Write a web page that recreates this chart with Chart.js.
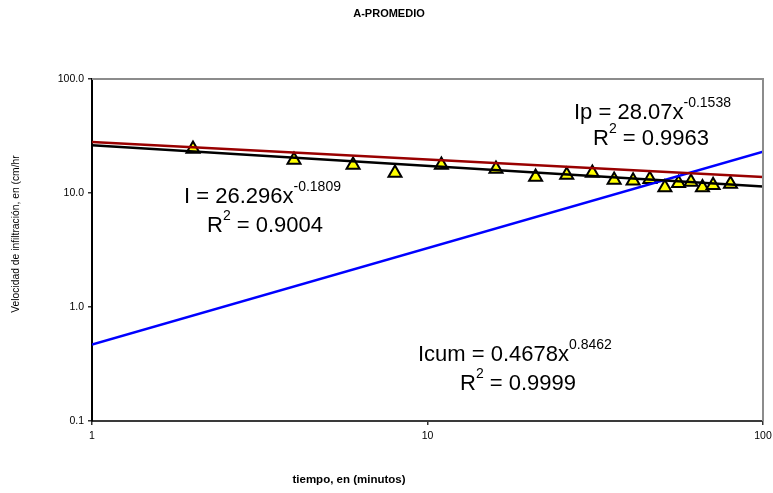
<!DOCTYPE html>
<html>
<head>
<meta charset="utf-8">
<script src="https://cdn.jsdelivr.net/npm/chart.js@4"></script>
<style>
  html, body { margin: 0; padding: 0; background: #fff; }
  #wrap { width: 773px; height: 493px; position: relative; }
</style>
</head>
<body>
<div id="wrap"><canvas id="chart"></canvas></div>
<script>
/* ---------- data ---------- */
const X_TICKS = [1, 10, 100];
const Y_TICKS = [0.1, 1, 10, 100];

// measured infiltration rate (triangles)
const TIME = [2, 4, 6, 8, 11, 16, 21, 26, 31, 36, 41, 46, 51, 56, 61, 66, 71, 80];
const RATE = [24.3, 19.5, 17.6, 15.0, 17.6, 16.2, 13.8, 14.4, 15.0, 13.0, 12.8, 13.2,
              11.2, 12.2, 12.5, 11.2, 11.7, 12.0];

// power-law trend lines are straight on log-log: two end values each
const FIT_X = [1, 100];
const FIT_I = [26.3, 11.43];
const FIT_IP = [28.07, 13.83];
const FIT_ICUM = [0.468, 23.0];

const TITLE = "A-PROMEDIO";
const X_TITLE = "tiempo, en (minutos)";
const Y_TITLE = "Velocidad de infiltración, en (cm/hr";

const FONT = "'Liberation Sans', Arial, sans-serif";

/* ---------- text placed on the chart ---------- */
const NOTES = [
  { x: 574, y: 119, parts: [["Ip = 28.07x", 0], ["-0.1538", 1]] },
  { x: 593, y: 145, parts: [["R", 0], ["2", 1], [" = 0.9963", 0]] },
  { x: 184, y: 203, parts: [["I = 26.296x", 0], ["-0.1809", 1]] },
  { x: 207, y: 232, parts: [["R", 0], ["2", 1], [" = 0.9004", 0]] },
  { x: 418, y: 361, parts: [["Icum = 0.4678x", 0], ["0.8462", 1]] },
  { x: 460, y: 390, parts: [["R", 0], ["2", 1], [" = 0.9999", 0]] },
];

const pairs = (xs, ys) => xs.map((x, i) => ({ x, y: ys[i] }));

const textPlugin = {
  id: "texts",
  afterDraw(chart) {
    const { ctx, chartArea: a } = chart;
    ctx.save();
    // top and right frame in grey
    ctx.strokeStyle = "#8c8c8c";
    ctx.lineWidth = 2;
    ctx.beginPath();
    ctx.moveTo(a.left, a.top);
    ctx.lineTo(a.right, a.top);
    ctx.lineTo(a.right, a.bottom);
    ctx.stroke();

    ctx.fillStyle = "#000";
    ctx.textBaseline = "middle";
    ctx.textAlign = "center";
    ctx.font = `bold 11px ${FONT}`;
    ctx.fillText(TITLE, 389, 14);
    ctx.font = `bold 11.5px ${FONT}`;
    ctx.fillText(X_TITLE, 349, 480);

    ctx.save();
    ctx.translate(16, 234);
    ctx.rotate(-Math.PI / 2);
    ctx.font = `10.3px ${FONT}`;
    ctx.fillText(Y_TITLE, 0, 0);
    ctx.restore();

    ctx.textAlign = "left";
    ctx.textBaseline = "alphabetic";
    NOTES.forEach((n) => {
      let x = n.x;
      n.parts.forEach(([t, sup]) => {
        ctx.font = sup ? `14px ${FONT}` : `22px ${FONT}`;
        ctx.fillText(t, x, sup ? n.y - 12 : n.y);
        x += ctx.measureText(t).width;
      });
    });
    ctx.restore();
  },
};

const fmtY = (v) => Number(v).toFixed(1);

new Chart(document.getElementById("chart"), {
  type: "scatter",
  data: {
    datasets: [
      {
        label: "I", data: pairs(TIME, RATE), order: 2,
        pointStyle: "triangle", pointRadius: 7.5, pointHoverRadius: 7.5,
        backgroundColor: "#ffff00", borderColor: "#000", borderWidth: 2,
      },
      {
        label: "fit I", data: pairs(FIT_X, FIT_I), order: 1, showLine: true,
        borderColor: "#000", borderWidth: 2.5, pointRadius: 0,
      },
      {
        label: "fit Ip", data: pairs(FIT_X, FIT_IP), order: 1, showLine: true,
        borderColor: "#990000", borderWidth: 2.5, pointRadius: 0,
      },
      {
        label: "fit Icum", data: pairs(FIT_X, FIT_ICUM), order: 1, showLine: true,
        borderColor: "#0000ff", borderWidth: 2.5, pointRadius: 0,
      },
    ],
  },
  options: {
    responsive: true, maintainAspectRatio: false, animation: false,
    layout: { padding: { top: 79, right: 10, bottom: 0, left: 0 } },
    plugins: { legend: { display: false }, tooltip: { enabled: false }, title: { display: false } },
    scales: {
      x: {
        type: "logarithmic", min: 1, max: 100,
        afterBuildTicks: (s) => { s.ticks = X_TICKS.map((v) => ({ value: v })); },
        afterFit: (s) => { s.height = 72; s.paddingLeft = 0; s.paddingRight = 0; },
        ticks: {
          color: "#000", padding: 5, maxRotation: 0, autoSkip: false,
          font: { family: FONT, size: 10.5 },
          callback: (v) => String(v),
        },
        grid: { drawOnChartArea: false, drawTicks: true, tickLength: 4, color: "#333", lineWidth: 1.5 },
        border: { color: "#3a3a3a", width: 2 },
      },
      y: {
        type: "logarithmic", min: 0.1, max: 100,
        afterBuildTicks: (s) => { s.ticks = Y_TICKS.map((v) => ({ value: v })); },
        afterFit: (s) => { s.width = 92; s.paddingTop = 0; s.paddingBottom = 0; },
        ticks: {
          color: "#000", padding: 4, autoSkip: false,
          font: { family: FONT, size: 10.5 },
          callback: fmtY,
        },
        grid: { drawOnChartArea: false, drawTicks: true, tickLength: 4, color: "#333", lineWidth: 1.5 },
        border: { color: "#000", width: 2 },
      },
    },
  },
  plugins: [textPlugin],
});
</script>
</body>
</html>
